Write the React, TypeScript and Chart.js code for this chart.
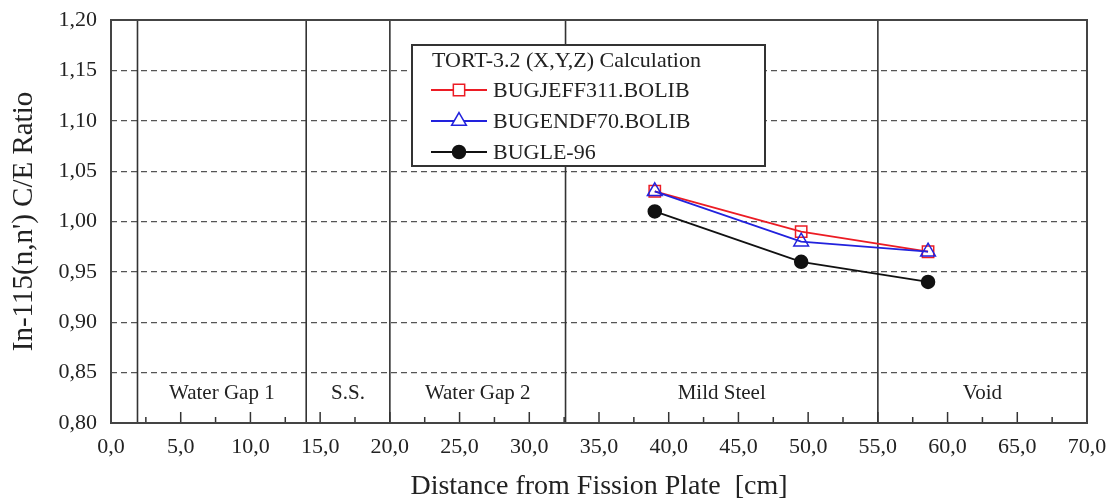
import React, { useEffect, useRef } from 'react';
import { Chart, registerables } from 'chart.js';

Chart.register(...registerables);

// ---- data ----
const distances = [39.0, 49.5, 58.6];
const jeffValues = [1.03, 0.99, 0.97];
const endfValues = [1.03, 0.98, 0.97];
const bugleValues = [1.01, 0.96, 0.94];
const seriesNames = ['BUGJEFF311.BOLIB', 'BUGENDF70.BOLIB', 'BUGLE-96'];
const legendTitle = 'TORT-3.2 (X,Y,Z) Calculation';
const regionBoundaries = [1.9, 14.0, 20.0, 32.6, 55.0];
const regionLabels = ['Water Gap 1', 'S.S.', 'Water Gap 2', 'Mild Steel', 'Void'];
const xTitle = 'Distance from Fission Plate  [cm]';
const yTitle = "In-115(n,n') C/E Ratio";
const xMin = 0;
const xMax = 70;
const xStep = 5;
const yMin = 0.8;
const yMax = 1.2;
const yStep = 0.05;

// ---- styles ----
const FONT = "'Liberation Serif', 'Times New Roman', serif";
const TEXT = '#222';
const RED = '#ec1c24';
const BLUE = '#2222dd';
const BLACK = '#111';
const colors = [RED, BLUE, BLACK];
const styles = ['rect', 'triangle', 'circle'];
const radii = [8, 8.5, 6.5];
const drawOrder = [3, 2, 1];

function drawMarker(ctx: CanvasRenderingContext2D, style: string, x: number, y: number, color: string, r: number) {
  ctx.save();
  ctx.lineWidth = 1.5;
  ctx.strokeStyle = color;
  ctx.beginPath();
  if (style === 'rect') {
    const s = Math.SQRT1_2 * r;
    ctx.rect(x - s, y - s, 2 * s, 2 * s);
    ctx.fillStyle = '#fff';
    ctx.fill();
    ctx.stroke();
  } else if (style === 'triangle') {
    let rad = 0;
    ctx.moveTo(x + Math.sin(rad) * r, y - Math.cos(rad) * r);
    rad += (2 * Math.PI) / 3;
    ctx.lineTo(x + Math.sin(rad) * r, y - Math.cos(rad) * r);
    rad += (2 * Math.PI) / 3;
    ctx.lineTo(x + Math.sin(rad) * r, y - Math.cos(rad) * r);
    ctx.closePath();
    ctx.fillStyle = '#fff';
    ctx.fill();
    ctx.stroke();
  } else {
    ctx.arc(x, y, r, 0, Math.PI * 2);
    ctx.fillStyle = color;
    ctx.fill();
    ctx.stroke();
  }
  ctx.restore();
}

const overlayPlugin = {
  id: 'overlay',
  beforeDatasetsDraw(chart: any) {
    const { ctx, chartArea, scales } = chart;
    const { top, bottom } = chartArea;
    const x = scales.x;
    ctx.save();
    // region boundary lines
    ctx.strokeStyle = '#333';
    ctx.lineWidth = 1.6;
    regionBoundaries.forEach((b) => {
      const px = x.getPixelForValue(b);
      ctx.beginPath();
      ctx.moveTo(px, top);
      ctx.lineTo(px, bottom);
      ctx.stroke();
    });
    // inside ticks on the x axis
    ctx.lineWidth = 1.5;
    for (let i = 0; i <= (xMax - xMin) / (xStep / 2); i++) {
      const v = xMin + i * (xStep / 2);
      const px = x.getPixelForValue(v);
      const len = i % 2 === 0 ? 11 : 6;
      ctx.beginPath();
      ctx.moveTo(px, bottom);
      ctx.lineTo(px, bottom - len);
      ctx.stroke();
    }
    // region labels
    ctx.fillStyle = TEXT;
    ctx.font = `21px ${FONT}`;
    ctx.textAlign = 'center';
    ctx.textBaseline = 'alphabetic';
    regionLabels.forEach((label, i) => {
      const a = regionBoundaries[i];
      const b = i + 1 < regionBoundaries.length ? regionBoundaries[i + 1] : xMax;
      const px = x.getPixelForValue((a + b) / 2);
      ctx.fillText(label, px, bottom - 24);
    });
    ctx.restore();
  },
  afterDraw(chart: any) {
    const { ctx, chartArea } = chart;
    const { left, right, top, bottom } = chartArea;
    ctx.save();
    // plot frame
    ctx.strokeStyle = '#444';
    ctx.lineWidth = 2;
    ctx.strokeRect(left, top, right - left, bottom - top);

    // legend
    const lx = 412;
    const ly = 45;
    const lw = 353;
    const lh = 121;
    ctx.fillStyle = '#fff';
    ctx.fillRect(lx, ly, lw, lh);
    ctx.strokeStyle = '#333';
    ctx.lineWidth = 2;
    ctx.strokeRect(lx, ly, lw, lh);
    ctx.fillStyle = TEXT;
    ctx.font = `22px ${FONT}`;
    ctx.textAlign = 'left';
    ctx.textBaseline = 'middle';
    ctx.fillText(legendTitle, lx + 20, ly + 16);
    seriesNames.forEach((name, i) => {
      const y = ly + 45 + i * 31;
      ctx.strokeStyle = colors[i];
      ctx.lineWidth = 1.8;
      ctx.beginPath();
      ctx.moveTo(lx + 19, y);
      ctx.lineTo(lx + 75, y);
      ctx.stroke();
      drawMarker(ctx, styles[i], lx + 47, y, colors[i], radii[i]);
      ctx.fillStyle = TEXT;
      ctx.fillText(name, lx + 81, y + 1);
    });
    ctx.restore();
  },
};

export default function App() {
  const canvasRef = useRef<HTMLCanvasElement | null>(null);

  useEffect(() => {
    document.body.style.margin = '0';
    const canvas = canvasRef.current;
    if (!canvas) return;
    const seriesValues = [jeffValues, endfValues, bugleValues];
    const chart = new Chart(canvas, {
      type: 'scatter',
      data: {
        datasets: seriesNames.map((name, i) => ({
          label: name,
          data: distances.map((d, j) => ({ x: d, y: seriesValues[i][j] })),
          showLine: true,
          order: drawOrder[i],
          borderColor: colors[i],
          borderWidth: 1.8,
          pointStyle: styles[i] as any,
          pointRadius: radii[i],
          pointBorderWidth: 1.5,
          pointBackgroundColor: i === 2 ? colors[i] : 'rgba(255,255,255,0)',
          pointBorderColor: colors[i],
        })),
      },
      options: {
        responsive: false,
        animation: false,
        devicePixelRatio: 1,
        layout: { padding: { top: 20, right: 25, left: 0, bottom: 0 } },
        plugins: {
          legend: { display: false },
          tooltip: { enabled: false },
        },
        scales: {
          x: {
            type: 'linear',
            min: xMin,
            max: xMax,
            afterFit: (s: any) => {
              s.height = 80;
              s.paddingLeft = 0;
              s.paddingRight = 0;
            },
            grid: { display: false, drawTicks: false },
            border: { display: false },
            ticks: {
              stepSize: xStep,
              padding: 11,
              color: TEXT,
              font: { family: FONT, size: 22 },
              maxRotation: 0,
              callback: (v: any) => Number(v).toFixed(1).replace('.', ','),
            },
            title: {
              display: true,
              text: xTitle,
              color: TEXT,
              font: { family: FONT, size: 28 },
              padding: { top: 0, bottom: 0 },
            },
          },
          y: {
            type: 'linear',
            min: yMin,
            max: yMax,
            afterFit: (s: any) => {
              s.width = 111;
              s.paddingTop = 0;
              s.paddingBottom = 0;
            },
            grid: {
              color: '#555',
              lineWidth: 1.2,
              drawTicks: false,
            },
            border: { display: false, dash: [6, 4] },
            ticks: {
              stepSize: yStep,
              padding: 14,
              color: TEXT,
              font: { family: FONT, size: 22 },
              callback: (v: any) => Number(v).toFixed(2).replace('.', ','),
            },
            title: {
              display: true,
              text: yTitle,
              color: TEXT,
              font: { family: FONT, size: 29 },
              padding: { top: 7, bottom: 0 },
            },
          },
        },
      },
      plugins: [overlayPlugin],
    });
    return () => chart.destroy();
  }, []);

  return (
    <div style={{ width: 1112, height: 503 }}>
      <canvas ref={canvasRef} width={1112} height={503} style={{ display: 'block' }} />
    </div>
  );
}
